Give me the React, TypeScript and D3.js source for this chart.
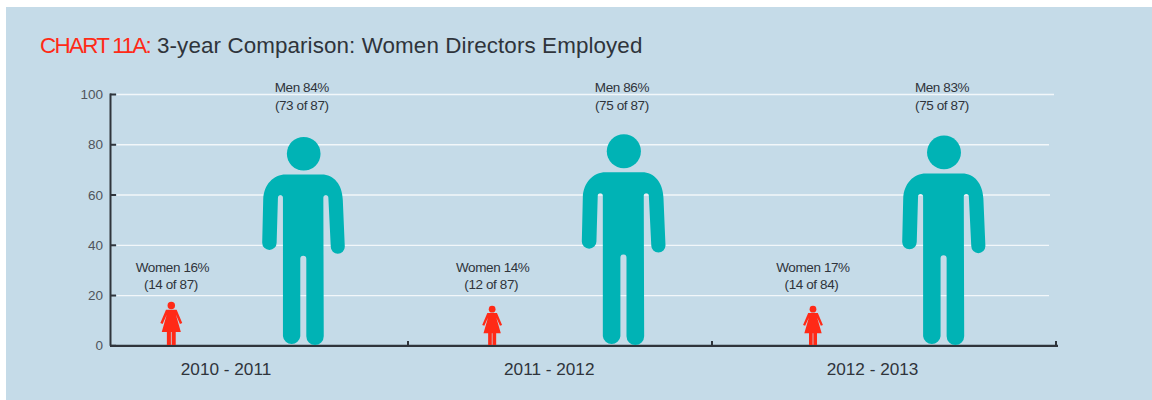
import React from "react";
import * as d3 from "d3";

const years = ["2010 - 2011", "2011 - 2012", "2012 - 2013"];
const menPct = [84, 86, 83];
const menCount = ["73 of 87", "75 of 87", "75 of 87"];
const womenPct = [16, 14, 17];
const womenCount = ["14 of 87", "12 of 87", "14 of 84"];
// heights of the pictograms as drawn, read on the y axis
const menFigure = [82.8, 83.9, 83.4];
const womenFigure = [17.2, 15.6, 15.6];
const yTicks = [0, 20, 40, 60, 80, 100];
const gridEnds = [1049, 1049, 1050, 1049, 1054];

const BG = "#c5dbe8";
const TEAL = "#00b3b5";
const RED = "#ff2a17";
const DARK = "#2f343b";
const FONT = "'Liberation Sans', Arial, sans-serif";

const MAN_H = 207.6;
const WOMAN_H = 43;

const MAN_BODY =
  "M-20.7,-8.7 L-20.7,-147 A2.5,2.5 0 0 0 -25.7,-147 L-27,-102 A7.2,7.2 0 0 1 -41.4,-102 L-40.4,-145 C-40,-160 -30,-170 -18,-170 L18,-170 C30,-170 38.5,-160 39,-145 L41,-98 A7,7 0 0 1 27,-98 L24.6,-147 A2.5,2.5 0 0 0 19.6,-147 L20,-8.7 A8.7,8.7 0 0 1 2.6,-8.7 L2.6,-86 A3,3 0 0 0 -3.4,-86 L-3.4,-8.7 A8.7,8.7 0 0 1 -20.7,-8.7 Z";
const WOMAN_BODY =
  "M-5.3,-35 L5.3,-35 L10.9,-22 L8.6,-21 L4.6,-30 L9.5,-13 L4.4,-13 L4.4,0 L0.4,0 L0.4,-13 L-0.4,-13 L-0.4,0 L-4.4,0 L-4.4,-13 L-9.5,-13 L-4.6,-30 L-8.6,-21 L-10.9,-22 Z";

const y = d3.scaleLinear().domain([0, 100]).range([345.8, 94.5]);
const idx = years.map((_, i) => i);
const xLabel = d3.scalePoint<number>().domain(idx).range([226, 872.5]);
const xMen = d3.scalePoint<number>().domain(idx).range([303.7, 944]);
const xWomen = d3.scalePoint<number>().domain(idx).range([171.3, 813]);
const xMenLabel = d3.scalePoint<number>().domain(idx).range([301.8, 942]);
const xWomenLabel = d3.scalePoint<number>().domain(idx).range([172.5, 813]);
const axisTicks = [408, 712, 1056];

export default function App() {
  return (
    <svg
      width={1152}
      height={400}
      viewBox="0 0 1152 400"
      style={{ position: "absolute", left: 0, top: 0, display: "block" }}
      fontFamily={FONT}
    >
      <rect x={6} y={7} width={1146} height={393} fill={BG} />
      <text x={40} y={53} fontSize={22.4} fill={RED} letterSpacing={-1.7}>
        CHART 11A:
      </text>
      <text x={157} y={53} fontSize={22.4} fill={DARK} letterSpacing={0.1}>
        3-year Comparison: Women Directors Employed
      </text>

      {yTicks.slice(1).map((t, i) => (
        <line key={t} x1={117} x2={gridEnds[i]} y1={y(t)} y2={y(t)} stroke="#f2f7fa" strokeWidth={1.3} />
      ))}

      {yTicks.map((t) => (
        <g key={t}>
          <text x={103} y={y(t) + 4.5} textAnchor="end" fontSize={13.5} fill="#50555c">
            {t}
          </text>
          <line x1={110} x2={116} y1={y(t)} y2={y(t)} stroke={DARK} strokeWidth={2} />
        </g>
      ))}
      <line x1={110.5} x2={110.5} y1={y(100) - 1} y2={y(0)} stroke={DARK} strokeWidth={2} />
      <line x1={110} x2={1058} y1={345.8} y2={345.8} stroke={DARK} strokeWidth={2.2} />
      {axisTicks.map((x) => (
        <line key={x} x1={x} x2={x} y1={341} y2={346} stroke={DARK} strokeWidth={2} />
      ))}

      {idx.map((i) => {
        const mh = (y(0) - y(menFigure[i])) / MAN_H;
        const wh = (y(0) - y(womenFigure[i])) / WOMAN_H;
        return (
          <g key={i}>
            <g transform={`translate(${xMen(i)},345) scale(${mh})`} fill={TEAL}>
              <circle cx={0} cy={-190.8} r={16.8} />
              <path d={MAN_BODY} />
            </g>
            <g transform={`translate(${xWomen(i)},345) scale(${wh})`} fill={RED}>
              <circle cx={0} cy={-39.3} r={3.7} />
              <path d={WOMAN_BODY} />
            </g>
            <text fontSize={13.5} fill={DARK} textAnchor="middle" letterSpacing={-0.4}>
              <tspan x={xMenLabel(i)} y={92}>{`Men ${menPct[i]}%`}</tspan>
              <tspan x={xMenLabel(i)} y={110}>{`(${menCount[i]})`}</tspan>
            </text>
            <text fontSize={13.5} fill={DARK} textAnchor="middle" letterSpacing={-0.4}>
              <tspan x={xWomenLabel(i)} y={272}>{`Women ${womenPct[i]}%`}</tspan>
              <tspan x={xWomenLabel(i) - 1.5} y={289}>{`(${womenCount[i]})`}</tspan>
            </text>
            <text x={xLabel(i)} y={375} textAnchor="middle" fontSize={17.2} fill={DARK}>
              {years[i]}
            </text>
          </g>
        );
      })}
    </svg>
  );
}
